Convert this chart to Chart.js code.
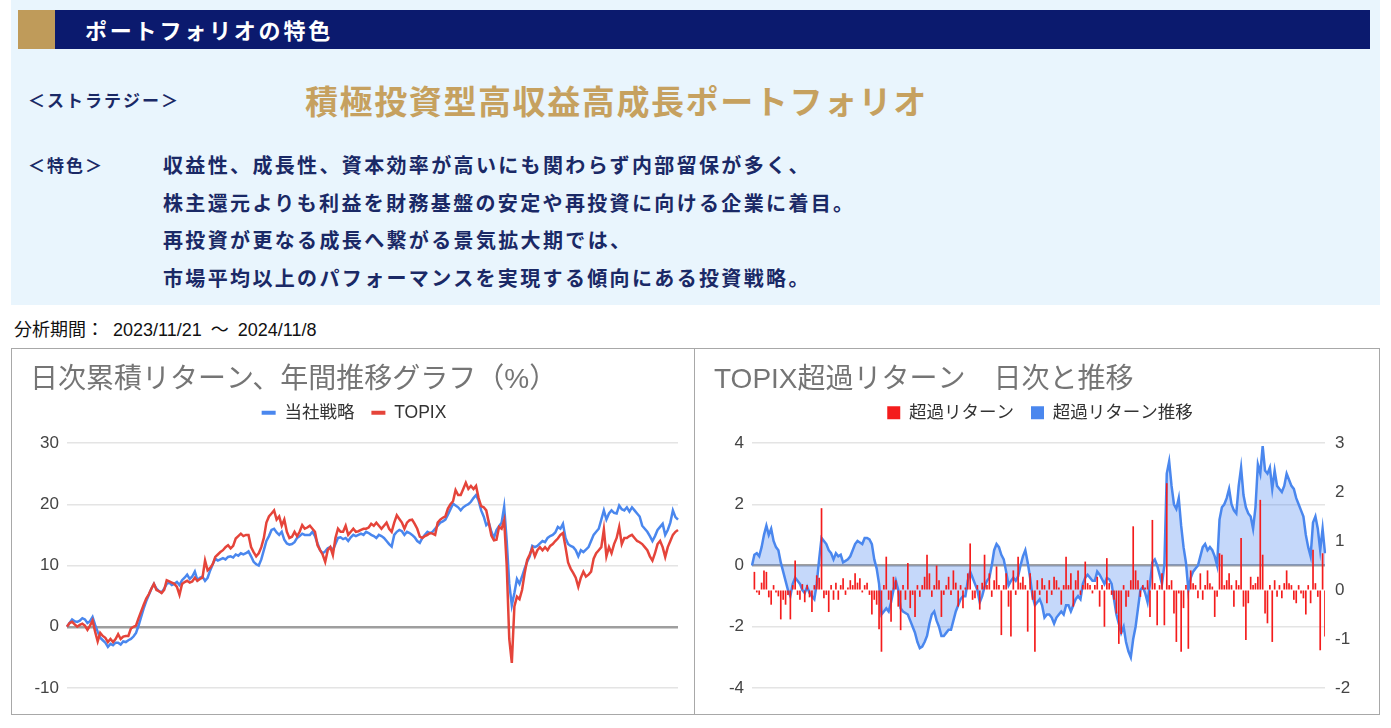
<!DOCTYPE html>
<html lang="ja">
<head>
<meta charset="utf-8">
<script src="https://cdn.jsdelivr.net/npm/chart.js@4.4.1/dist/chart.umd.min.js"></script>
<style>
  body { margin: 0; background: #fff; font-family: 'Noto Sans CJK JP', sans-serif; }
  .abs { position: absolute; white-space: nowrap; }
  #panel { left: 11px; top: 0; width: 1369px; height: 305px; background: #e9f5fd; }
  #gold { left: 18px; top: 10px; width: 37px; height: 39px; background: #bf9b5a; }
  #navy { left: 55px; top: 10px; width: 1315px; height: 39px; background: #0b1a6e; }
  #head { left: 85px; top: 10px; line-height: 39px; font-size: 22px; font-weight: bold; color: #fff; letter-spacing: 2.8px; }
  .lbl { color: #1a2966; font-size: 17px; font-weight: bold; letter-spacing: 2px; }
  #strat { left: 28px; top: 85px; line-height: 30px; }
  #stratName { left: 305px; top: 79px; line-height: 42px; font-size: 33px; font-weight: bold; color: #c6a15f; letter-spacing: 1.6px; }
  #feat { left: 28px; top: 146px; line-height: 37px; }
  #featText { left: 163px; top: 146px; line-height: 37.5px; font-size: 20px; font-weight: bold; color: #1a2966; letter-spacing: 2.35px; }
  #period { left: 14px; top: 318px; line-height: 24px; font-size: 18px; color: #111; word-spacing: 4px; font-family: 'Liberation Sans', 'Noto Sans CJK JP', sans-serif; }
  .box { top: 348px; height: 367px; box-sizing: border-box; border: 1px solid #a8a8a8; }
  canvas { position: absolute; top: 349px; }
</style>
</head>
<body>
<div id="panel" class="abs"></div>
<div id="gold" class="abs"></div>
<div id="navy" class="abs"></div>
<div id="head" class="abs">ポートフォリオの特色</div>
<div id="strat" class="abs lbl">＜ストラテジー＞</div>
<div id="stratName" class="abs">積極投資型高収益高成長ポートフォリオ</div>
<div id="feat" class="abs lbl">＜特色＞</div>
<div id="featText" class="abs">収益性、成長性、資本効率が高いにも関わらず内部留保が多く、<br>株主還元よりも利益を財務基盤の安定や再投資に向ける企業に着目。<br>再投資が更なる成長へ繋がる景気拡大期では、<br>市場平均以上のパフォーマンスを実現する傾向にある投資戦略。</div>
<div id="period" class="abs">分析期間： 2023/11/21 ～ 2024/11/8</div>
<div class="abs box" style="left:11px; width:684px;"></div>
<div class="abs box" style="left:694px; width:686px;"></div>
<canvas id="cumChart" width="682" height="365" style="left:12px;"></canvas>
<canvas id="excessChart" width="683" height="365" style="left:696px;"></canvas>

<script>
// 日次累積リターン (%)
const strategy = [
  0, 0.6, 1.2, 0.9, 0.8, 1.0, 1.4, 1.2, 0.6, 0.9,
  1.6, 0.3, -0.8, -1.8, -2.2, -2.6, -3.3, -2.8, -3.0, -2.6,
  -2.6, -2.9, -2.4, -2.5, -2.2, -2.0, -1.6, -1.0, 0.2, 1.6,
  3.0, 4.2, 5.2, 6.2, 7.0, 6.2, 5.8, 5.6, 6.2, 7.0,
  7.2, 6.8, 7.0, 7.3, 6.8, 7.6, 8.0, 8.5, 7.8, 8.2,
  9.0, 7.6, 8.0, 8.2, 7.5, 8.0, 9.2, 10.2, 11.1, 10.8,
  11.0, 11.2, 11.0, 11.4, 11.5, 11.3, 11.8, 11.6, 12.0, 11.8,
  12.0, 12.3, 11.5, 10.6, 10.2, 10.0, 11.0, 12.5, 14.0, 14.8,
  15.8, 16.0, 15.4, 15.0, 15.5, 14.2, 13.6, 13.4, 13.5, 13.8,
  14.5, 14.8, 15.2, 15.0, 15.0, 15.0, 15.5, 14.8, 13.6, 12.5,
  12.0, 12.3, 12.8, 13.0, 12.5, 13.5, 14.5, 14.6, 14.3, 14.5,
  14.0, 14.6, 15.0, 14.8, 15.0, 15.2, 15.0, 15.5, 15.3, 15.0,
  14.8, 14.5, 15.0, 14.8, 14.5, 14.0, 13.5, 13.1, 15.0, 15.5,
  15.8, 15.6, 15.0, 15.5, 15.3, 15.0, 14.6, 14.0, 13.7, 14.5,
  15.0, 15.5, 15.3, 15.5, 16.0, 16.5, 17.0, 17.2, 17.5, 18.3,
  19.2, 20.1, 19.8, 19.5, 19.0, 19.5, 19.8, 20.0, 20.4, 21.0,
  21.5, 20.6, 19.0, 18.0, 16.6, 17.0, 15.5, 14.5, 15.8, 16.4,
  17.0, 19.6, 14.0, 7.0, 3.5, 5.5, 7.8, 7.0, 8.2, 9.5,
  10.6, 11.5, 13.2, 13.0, 13.2, 13.6, 14.0, 13.8, 14.5, 14.8,
  15.0, 15.4, 16.3, 16.0, 16.8, 14.5, 13.5, 13.2, 13.0, 12.5,
  11.5, 12.5, 12.2, 12.6, 13.0, 14.0, 15.0, 15.5, 16.0, 17.5,
  19.0, 17.5, 18.5, 19.0, 18.6, 18.5, 19.8, 19.2, 19.0, 19.5,
  18.8, 19.5, 19.0, 18.5, 18.0, 16.5, 16.0, 15.5, 14.8, 14.0,
  14.8, 15.8, 16.3, 16.8, 15.0, 15.8, 17.0, 19.0, 17.9, 17.5
];
const topix = [
  0, 0.6, 0.8, 0.4, 0.0, 0.3, 0.5, 0.2, -0.5, 0.2,
  1.0, -0.8, -2.4, -1.0, -1.5, -1.8, -2.5, -2.0, -2.5, -2.0,
  -1.2, -2.0, -1.6, -1.5, -1.5, -0.3, 0.0, 0.2, 1.4, 2.5,
  3.6, 4.6, 5.3, 6.2, 7.0, 6.0, 5.8, 5.5, 6.0, 7.6,
  7.4, 7.2, 7.0, 6.5, 5.2, 7.0, 7.3, 7.5, 7.2, 7.4,
  8.0, 7.5, 7.8, 8.0, 10.8, 9.2, 9.6, 10.2, 11.4, 11.8,
  12.2, 12.5, 13.0, 13.3, 12.8, 13.2, 14.4, 14.8, 15.2, 14.8,
  15.0, 15.0, 13.0, 12.2, 11.5, 12.0, 13.0, 14.5, 17.0, 18.0,
  18.5, 19.0, 17.5, 18.0, 16.5, 17.5, 15.5, 14.5, 14.7, 15.5,
  14.8, 15.5, 16.6, 16.0, 16.2, 16.5, 16.0, 15.5, 13.3, 12.5,
  11.8, 10.6, 12.5, 13.0, 11.7, 14.5, 16.0, 15.5, 15.5, 16.5,
  15.0, 15.5, 16.0, 15.5, 15.6, 15.8, 16.0, 16.0, 16.2, 16.8,
  16.5, 17.0, 16.5, 16.0, 16.5, 17.0, 16.0, 15.5, 17.0, 18.2,
  17.6, 17.0, 16.0, 17.0, 17.4, 17.5, 16.8, 16.0, 14.7, 14.5,
  14.8, 15.0, 15.3, 15.2, 15.0, 17.0, 17.5, 17.8, 18.0, 19.3,
  20.0, 20.5, 22.3, 21.5, 21.5, 22.5, 23.5, 22.5, 23.0, 22.5,
  23.0, 21.0, 19.7, 19.5, 19.0, 17.0, 14.9, 14.1, 14.2, 16.3,
  16.0, 17.4, 10.0, -2.0, -5.9, 3.3, 4.9, 4.5, 6.0, 8.7,
  10.9, 11.8, 12.8, 11.5, 12.5, 13.0, 12.5, 13.0, 12.5, 13.2,
  13.5, 14.0, 14.4, 15.0, 15.3, 13.0, 10.5, 9.5, 8.8, 8.0,
  6.5, 8.0, 9.0, 8.2, 8.5, 9.0, 11.1, 12.0, 12.5, 13.0,
  15.9, 11.5, 13.0, 12.0, 13.5, 14.5, 16.3, 13.5, 14.5, 14.5,
  14.8, 15.0, 14.5, 14.0, 13.8, 13.5, 13.0, 12.5, 11.5, 10.8,
  12.0, 13.5, 14.0, 13.0, 11.4, 13.0, 14.0, 15.0, 15.5, 15.8
];

// TOPIX超過リターン 日次 (右軸)
const excessDaily = [
  0.0, 0.37, -0.05, -0.1, 0.15, 0.4, 0.37, -0.15, -0.3, 0.1,
  -0.05, -0.13, -0.6, -0.2, -0.3, -0.1, -0.6, 0.1, 0.6, -0.1,
  -0.2, 0.12, -0.25, 0.1, -0.15, -0.45, 0.1, 0.3, 0.25, 1.67,
  -0.17, -0.1, -0.45, 0.1, -0.2, 0.15, -0.2, 0.1, 0.24, -0.1,
  0.05, 0.2, 0.1, 0.34, 0.15, 0.24, -0.05, 0.1, 0.15, -0.1,
  -0.5, -0.2, -0.3, -0.8, -1.26, 0.1, 0.68, -0.2, -0.65, 0.27,
  0.2, -0.34, -0.82, 0.1, -0.2, 0.55, -0.37, -0.1, -0.55, 0.1,
  -0.14, 0.1, 0.27, 0.72, 0.34, -0.14, 0.1, 0.5, 0.2, -0.55,
  -0.1, 0.1, 0.27, -0.1, 0.4, 0.15, -0.34, 0.1, -0.37, 0.05,
  0.34, 0.95, -0.2, -0.17, 0.1, -0.4, 0.15, 0.72, 0.1, 0.34,
  -0.14, 0.2, 0.48, 0.1, -0.92, 0.1, 0.34, -0.34, -0.95, 0.4,
  -0.1, 0.68, 0.15, 0.27, 0.1, -0.85, 0.34, -0.2, -1.26, 0.2,
  -0.1, 0.24, 0.1, -0.27, 0.2, -0.1, 0.27, 0.2, 0.05, -0.3,
  0.1, 0.68, 0.1, 0.34, -0.34, 0.2, 0.4, -0.1, 0.1, 0.58,
  0.14, 0.1, -0.07, 0.1, 0.27, -0.34, 0.1, -0.75, 0.65, 0.14,
  -0.1, -0.2, -0.48, -1.1, -0.9, 0.1, -0.34, -0.14, 0.2, 1.3,
  0.4, 0.2, -0.14, 0.1, 0.05, 0.2, -0.55, 1.43, 0.14, -0.72,
  0.1, 0.34, -0.72, 2.18, 0.1, 0.2, -0.48, -1.06, -0.07, -1.26,
  -0.37, 0.1, -1.2, 0.4, 0.14, 0.1, -0.17, 0.34, -0.2, 0.1,
  0.4, 0.14, 0.07, -0.55, -0.14, 0.75, 0.72, 0.1, 0.2, 0.34,
  0.1, -0.34, 0.2, 0.1, 1.06, -0.34, -1.02, -0.27, 0.27, 0.1,
  0.14, 0.27, 1.84, 0.72, -0.48, -0.68, 0.1, -1.06, 0.2, -0.14,
  0.1, -0.17, 0.14, 0.4, 0.14, 0.1, -0.2, -0.27, 0.1, -0.07,
  -0.17, -0.5, 0.1, -0.27, 0.82, 0.14, -0.14, -1.23, 0.75, -0.95
];
// 超過リターン推移 (左軸)
const excessCum = [
  0, 0.35, 0.4, 0.3, 0.6, 1.0, 1.3, 1.0, 1.2, 0.8,
  0.6, 0.5, 0.1, -0.2, -0.5, -0.8, -1.0, -0.6, -0.4, -0.5,
  -0.6, -0.8, -0.9, -0.7, -0.9, -1.0, -1.1, -0.6, 0.2, 0.9,
  0.8, 0.7, 0.5, 0.4, 0.2, 0.4, 0.3, 0.35, 0.1, 0.15,
  0.2, 0.3, 0.5, 0.7, 0.8, 0.75, 0.7, 0.9, 0.9, 0.85,
  0.7, 0.2, -0.1, -0.6, -1.6, -1.5, -1.4, -1.5, -1.2, -0.8,
  -0.5, -0.8, -1.4, -1.5, -1.55, -1.6, -1.8, -2.0, -2.2, -2.5,
  -2.7, -2.65, -2.5, -2.3, -1.9, -1.6, -1.5, -1.8, -2.0, -2.3,
  -2.3, -2.2, -2.1, -2.1, -1.8, -1.5, -1.3, -1.1, -1.0, -1.0,
  -0.5, -0.2, -0.4, -0.6, -0.8, -1.2, -1.0, -0.7, -0.5, -0.4,
  0.0, 0.5, 0.7, 0.6, 0.35, 0.2, -0.2, -0.65, -0.5, -0.4,
  -0.5, -0.35, 0.0, 0.3, 0.5, 0.1, -0.4, -1.0, -1.3, -1.2,
  -1.1, -1.3, -1.7, -1.6, -1.6, -1.7, -1.9, -1.7, -1.6, -1.5,
  -1.6, -1.3, -1.3, -1.5, -1.3, -1.1, -1.0, -1.1, -0.6, -0.4,
  -0.3, -0.4, -0.5, -0.5, -0.2, -0.3, -0.45, -0.6, -0.4, -0.45,
  -0.6, -1.1, -1.6, -1.9, -2.2, -2.0, -2.5, -2.8, -3.0, -2.4,
  -2.0, -1.4, -0.8, -0.7, -0.9, -1.2, -0.6, 0.1, 0.2, 0.0,
  -0.3, -0.6, 0.0, 3.0, 3.4, 2.6, 2.0, 1.85, 2.2, 1.3,
  0.6, 0.1, -0.8, -0.4, -0.2, -0.1, 0.0, 0.3, 0.6, 0.7,
  0.5, 0.6, 0.5, 0.3, 0.0, 1.5, 1.9, 2.0, 2.2, 2.5,
  2.0, 1.8, 1.7, 2.6, 3.2, 2.3, 1.9, 1.7, 1.6, 1.2,
  1.9, 3.3, 3.0, 3.9, 3.1, 3.0, 3.2, 2.5, 3.1, 2.6,
  2.5, 2.4, 2.6, 3.0, 2.8, 2.6, 2.5, 2.2, 2.0, 1.8,
  1.6, 1.0, 0.6, 0.3, 1.4, 1.6, 1.2, 0.5, 1.2, 0.4
];

const cumTicks = [-10, 0, 10, 20, 30];
const excessTicks = [-4, -2, 0, 2, 4];
const dailyTicks = [-2, -1, 0, 1, 2, 3];

// 営業日ラベル (土日除く)
const dates = [];
for (let d = new Date(2023, 10, 21); dates.length < strategy.length; d.setDate(d.getDate() + 1)) {
  if (d.getDay() % 6 !== 0) dates.push(`${d.getFullYear()}/${d.getMonth() + 1}/${d.getDate()}`);
}

const font = "'Liberation Sans', 'Noto Sans CJK JP', sans-serif";
const blue = '#4a87ee';
const red = '#e5443a';

// legend height fixed so the plot starts where the reference does
const legendHeight = h => ({
  id: 'legendHeight',
  beforeInit(chart) {
    const fit = chart.legend.fit;
    chart.legend.fit = function () {
      fit.call(this);
      this.height = h;
    };
  }
});

const solidLabels = chart => {
  const items = Chart.defaults.plugins.legend.labels.generateLabels(chart);
  items.forEach(item => {
    const ds = chart.data.datasets[item.datasetIndex];
    item.fillStyle = ds.borderColor;
    item.strokeStyle = ds.borderColor;
    item.lineWidth = 0;
  });
  return items;
};

const gridColor = ctx => (ctx.tick && ctx.tick.value === 0 ? '#9e9e9e' : '#e4e4e4');
const gridWidth = ctx => (ctx.tick && ctx.tick.value === 0 ? 2.5 : 1.5);
const tickFont = {family: font, size: 17};
const legendFont = {family: font, size: 17.5};
const fixedTicks = list => scale => { scale.ticks = list.map(v => ({value: v})); };

const titleOpts = text => ({
  display: true,
  text: text,
  align: 'start',
  color: '#757575',
  font: {family: font, size: 28, weight: 'normal', lineHeight: 0.5},
  padding: {top: 24, bottom: 0}
});

new Chart(document.getElementById('cumChart'), {
  type: 'line',
  data: {
    labels: dates,
    datasets: [
      {label: '当社戦略', data: strategy, borderColor: blue, backgroundColor: blue, borderWidth: 2.5, pointRadius: 0, tension: 0, order: 2},
      {label: 'TOPIX', data: topix, borderColor: red, backgroundColor: red, borderWidth: 2.5, pointRadius: 0, tension: 0, order: 1}
    ]
  },
  options: {
    responsive: false,
    animation: false,
    devicePixelRatio: 1,
    layout: {padding: {left: 18, right: 16, top: 0, bottom: 26}},
    plugins: {
      title: titleOpts('日次累積リターン、年間推移グラフ（%）'),
      legend: {
        labels: {
          boxWidth: 14, boxHeight: 4, padding: 17, color: '#333', font: legendFont,
          generateLabels: solidLabels,
          sort: (a, b) => a.datasetIndex - b.datasetIndex
        }
      },
      tooltip: {enabled: false}
    },
    scales: {
      x: {display: false},
      y: {
        min: -10, max: 30,
        afterBuildTicks: fixedTicks(cumTicks),
        ticks: {padding: 8, color: '#444', font: tickFont},
        grid: {color: gridColor, lineWidth: gridWidth, drawTicks: false},
        border: {display: false},
        afterFit: s => { s.width = 37; }
      }
    }
  },
  plugins: [legendHeight(56)]
});

new Chart(document.getElementById('excessChart'), {
  type: 'bar',
  data: {
    labels: dates,
    datasets: [
      {type: 'bar', label: '超過リターン', data: excessDaily, yAxisID: 'y2', backgroundColor: '#f41c1c', borderColor: '#f41c1c', borderWidth: 0, barPercentage: 0.7, categoryPercentage: 1},
      {type: 'line', label: '超過リターン推移', data: excessCum, yAxisID: 'y', borderColor: blue, backgroundColor: 'rgba(74,135,238,0.32)', borderWidth: 2.5, pointRadius: 0, tension: 0, fill: 'origin'}
    ]
  },
  options: {
    responsive: false,
    animation: false,
    devicePixelRatio: 1,
    layout: {padding: {left: 18, right: 13, top: 0, bottom: 26}},
    plugins: {
      title: titleOpts('TOPIX超過リターン　日次と推移'),
      legend: {
        labels: {boxWidth: 13, boxHeight: 13, padding: 17, color: '#333', font: legendFont, generateLabels: solidLabels}
      },
      tooltip: {enabled: false}
    },
    scales: {
      x: {display: false, offset: false},
      y: {
        position: 'left',
        min: -4, max: 4,
        afterBuildTicks: fixedTicks(excessTicks),
        ticks: {padding: 8, color: '#444', font: tickFont},
        grid: {color: gridColor, lineWidth: gridWidth, drawTicks: false},
        border: {display: false},
        afterFit: s => { s.width = 38; }
      },
      y2: {
        position: 'right',
        min: -2, max: 3,
        afterBuildTicks: fixedTicks(dailyTicks),
        ticks: {padding: 10, color: '#444', font: tickFont},
        grid: {drawOnChartArea: false, drawTicks: false},
        border: {display: false},
        afterFit: s => { s.width = 41; }
      }
    }
  },
  plugins: [legendHeight(56)]
});
</script>
</body>
</html>
